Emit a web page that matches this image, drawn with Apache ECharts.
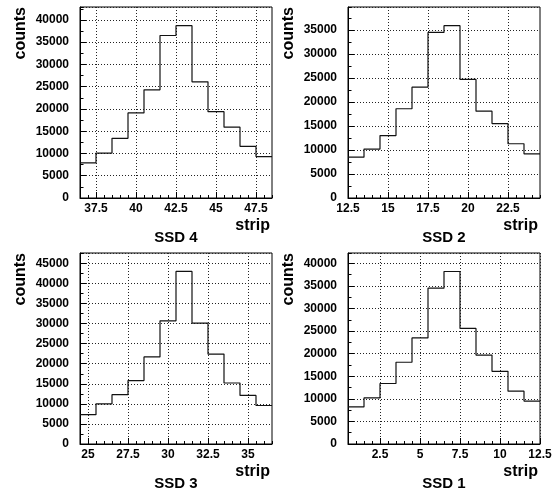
<!DOCTYPE html>
<html>
<head>
<meta charset="utf-8">
<script src="https://cdn.jsdelivr.net/npm/echarts@6/dist/echarts.min.js"></script>
<style>
html,body{margin:0;padding:0;background:#ffffff;}
#chart{width:552px;height:494px;}
</style>
</head>
<body>
<div id="chart"></div>
<script>
// ---- data ----
const stripsSSD4 = [37, 38, 39, 40, 41, 42, 43, 44, 45, 46, 47, 48];
const countsSSD4 = [7900, 10100, 13400, 19100, 24300, 36500, 38700, 26100, 19400, 15900, 11600, 9300];
const xTicksSSD4 = [37.5, 40, 42.5, 45, 47.5];

const stripsSSD2 = [13, 14, 15, 16, 17, 18, 19, 20, 21, 22, 23, 24];
const countsSSD2 = [8500, 10200, 13000, 18600, 23100, 34500, 35900, 24700, 18100, 15500, 11300, 9200];
const xTicksSSD2 = [12.5, 15, 17.5, 20, 22.5];

const stripsSSD3 = [25, 26, 27, 28, 29, 30, 31, 32, 33, 34, 35, 36];
const countsSSD3 = [7300, 10000, 12300, 15800, 21700, 30700, 43000, 30100, 22400, 15200, 12100, 9600];
const xTicksSSD3 = [25, 27.5, 30, 32.5, 35];

const stripsSSD1 = [1, 2, 3, 4, 5, 6, 7, 8, 9, 10, 11, 12];
const countsSSD1 = [8200, 10200, 13400, 18100, 23500, 34500, 38200, 25600, 19700, 16100, 11700, 9500];
const xTicksSSD1 = [2.5, 5, 7.5, 10, 12.5];

const panelTitles = ['SSD 4', 'SSD 2', 'SSD 3', 'SSD 1'];
const xTitle = 'strip';
const yTitle = 'counts';

// ---- layout / styling ----
const panels = [
  {strips: stripsSSD4, counts: countsSSD4, ticks: xTicksSSD4},
  {strips: stripsSSD2, counts: countsSSD2, ticks: xTicksSSD2},
  {strips: stripsSSD3, counts: countsSSD3, ticks: xTicksSSD3},
  {strips: stripsSSD1, counts: countsSSD1, ticks: xTicksSSD1}
];
const boxes = [
  {left: 80, top: 7},
  {left: 348, top: 7},
  {left: 80, top: 253},
  {left: 348, top: 253}
];
const W = 192, H = 191;
const FONT = '"Liberation Sans", Arial, Helvetica, sans-serif';
const labelStyle = {fontFamily: FONT, fontWeight: 'bold', fontSize: 12, color: '#000'};
const gridDots = {type: [1, 2], color: '#222', width: 1};
const plain = v => String(v);

const grid = [], xAxis = [], yAxis = [], series = [], graphic = [];

panels.forEach((p, i) => {
  const b = boxes[i];
  const xmin = p.strips[0] - 0.5;
  const xmax = p.strips[p.strips.length - 1] + 0.5;
  const ymax = Math.round(Math.max(...p.counts) * 1.108 / 100) * 100;

  grid.push({
    left: b.left, top: b.top, width: W, height: H,
    show: true, borderColor: '#000', borderWidth: 1,
    backgroundColor: 'transparent',
    containLabel: false, outerBoundsMode: 'none'
  });

  // main x axis: major ticks, labels, grid lines
  xAxis.push({
    type: 'value', gridIndex: i, position: 'bottom', min: xmin, max: xmax,
    axisLine: {show: true, onZero: false, lineStyle: {color: '#000', width: 1}},
    axisTick: {show: true, inside: true, length: 6, customValues: p.ticks, lineStyle: {color: '#000'}},
    axisLabel: Object.assign({show: true, margin: 5, customValues: p.ticks, formatter: plain,
      showMinLabel: true, showMaxLabel: true, hideOverlap: false}, labelStyle),
    splitLine: {show: true, lineStyle: gridDots},
    minorTick: {show: false}
  });
  // minor x ticks
  xAxis.push({
    type: 'value', gridIndex: i, position: 'bottom', min: xmin, max: xmax, interval: 0.5,
    axisLine: {show: false, onZero: false},
    axisTick: {show: true, inside: true, length: 3, lineStyle: {color: '#000'}},
    axisLabel: {show: false},
    splitLine: {show: false}
  });

  // main y axis
  yAxis.push({
    type: 'value', gridIndex: i, position: 'left', min: 0, max: ymax, interval: 5000,
    axisLine: {show: true, onZero: false, lineStyle: {color: '#000', width: 1}},
    axisTick: {show: true, inside: true, length: 6, lineStyle: {color: '#000'}},
    axisLabel: Object.assign({show: true, margin: 11, formatter: plain, showMaxLabel: false, showMinLabel: true,
      hideOverlap: false}, labelStyle),
    splitLine: {show: true, lineStyle: gridDots}
  });
  // minor y ticks
  yAxis.push({
    type: 'value', gridIndex: i, position: 'left', min: 0, max: ymax, interval: 2500,
    axisLine: {show: false, onZero: false},
    axisTick: {show: true, inside: true, length: 3.5, lineStyle: {color: '#000'}},
    axisLabel: {show: false},
    splitLine: {show: false}
  });

  const pts = p.strips.map((s, k) => [s - 0.5, p.counts[k]]);
  pts.push([xmax, p.counts[p.counts.length - 1]]);
  series.push({
    type: 'line', xAxisIndex: 2 * i, yAxisIndex: 2 * i, step: 'end',
    data: pts, symbol: 'none', silent: true, animation: false, clip: true,
    lineStyle: {color: '#111', width: 1.2}
  });

  graphic.push({
    type: 'text', x: b.left - 51, y: b.top, rotation: Math.PI / 2, silent: true,
    style: {text: yTitle, font: 'bold 16px ' + FONT, fill: '#000', align: 'right', verticalAlign: 'bottom'}
  });
  graphic.push({
    type: 'text', x: b.left + W - 2, y: b.top + H + 28, silent: true,
    style: {text: xTitle, font: 'bold 16px ' + FONT, fill: '#000', align: 'right', verticalAlign: 'middle'}
  });
  graphic.push({
    type: 'text', x: b.left + W / 2, y: b.top + H + 40, silent: true,
    style: {text: panelTitles[i], font: 'bold 15px ' + FONT, fill: '#000', align: 'center', verticalAlign: 'middle'}
  });
});

const chart = echarts.init(document.getElementById('chart'), null, {renderer: 'canvas'});
chart.setOption({
  animation: false,
  backgroundColor: '#ffffff',
  grid, xAxis, yAxis, series, graphic
});
</script>
</body>
</html>
